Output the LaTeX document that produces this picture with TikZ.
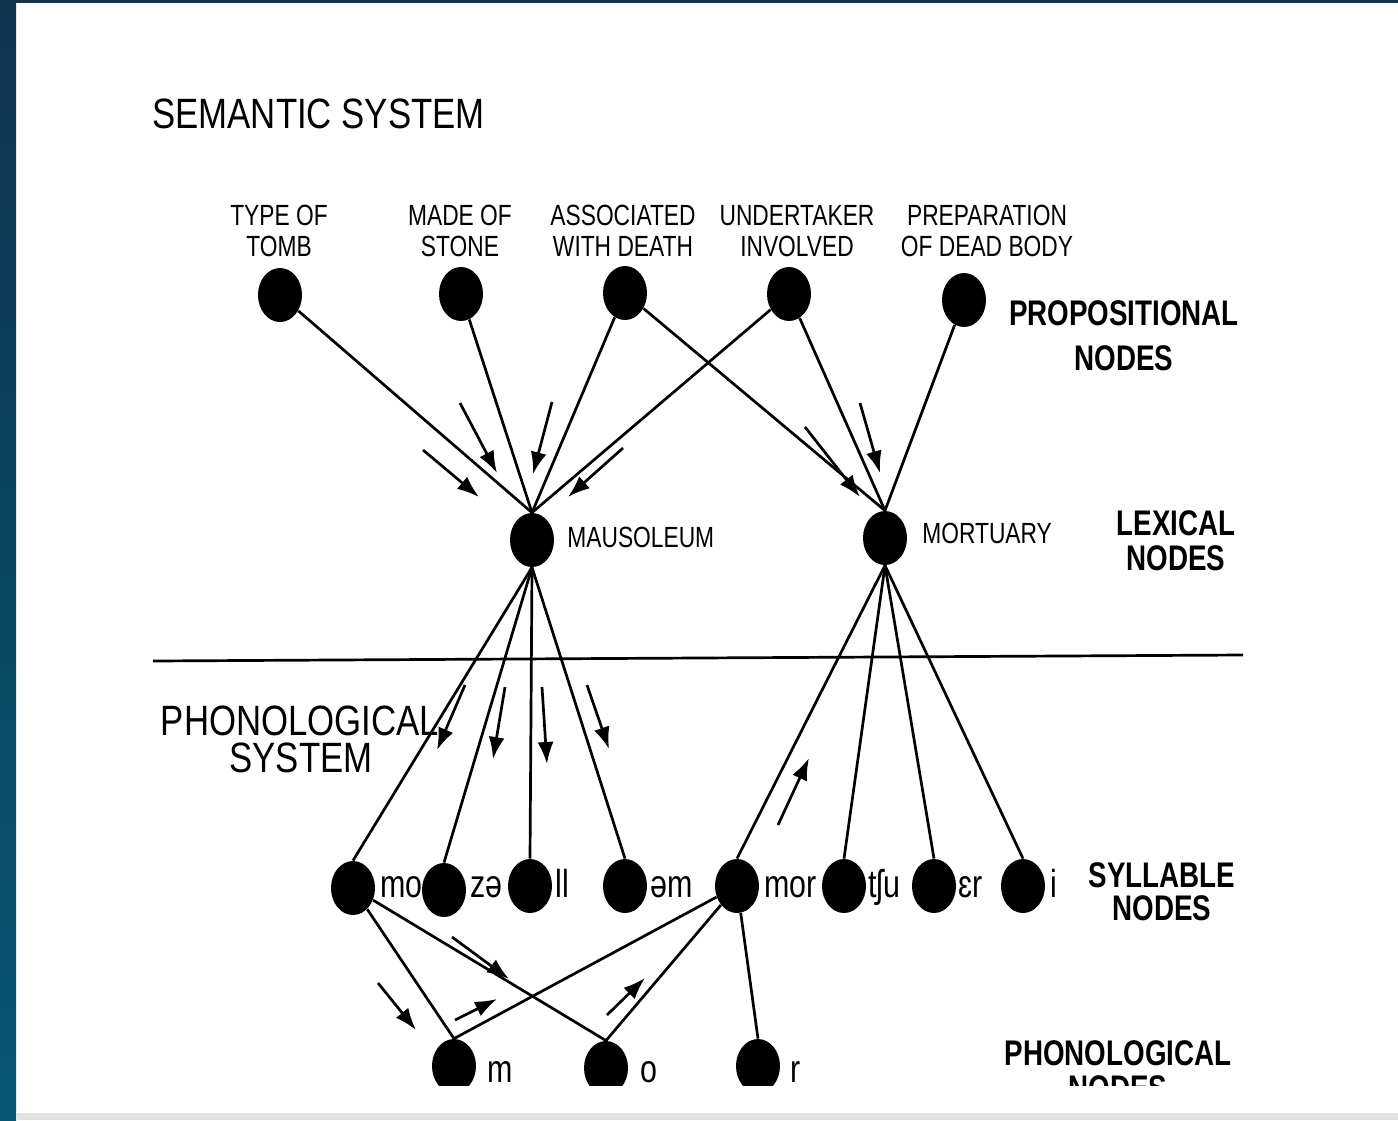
\documentclass[tikz,border=0pt]{standalone}
\usepackage{fontspec}
\setmainfont{Liberation Sans}[FakeStretch=0.78]
\newfontfamily\headfont{Liberation Sans}[FakeStretch=0.82]
\usetikzlibrary{arrows.meta,shapes.geometric}

\definecolor{frametop}{RGB}{14,52,78}
\definecolor{framebottom}{RGB}{6,88,118}
\definecolor{strip}{RGB}{226,226,226}

\tikzset{
  unit/.style={ellipse, fill=black, inner sep=0pt, minimum width=22pt, minimum height=27pt},
  link/.style={line width=1.35pt},
  flow/.style={line width=1.35pt, -{Latex[length=11pt,width=8pt]}},
  feature/.style={align=center, inner sep=0pt, anchor=north, font=\fontsize{14.6}{15.5}\selectfont},
  tag/.style={align=center, inner sep=0pt, anchor=north, font=\bfseries\fontsize{17.8}{#1}\selectfont},
  heading/.style={align=center, inner sep=0pt, font=\headfont\fontsize{21.2}{19}\selectfont},
  sound/.style={inner sep=0pt, anchor=base west, font=\fontsize{19.5}{20}\selectfont},
}

\begin{document}
\begin{tikzpicture}[x=0.5pt,y=0.5pt,yscale=-1]
\useasboundingbox (0,0) rectangle (1398,1120);

%Frame
\fill [white] (0,0) rectangle (1398,1120);
\shade [top color=frametop, bottom color=framebottom] (0,0) rectangle (16,1120);
\fill [frametop] (0,0) rectangle (1398,3);
\fill [strip] (16,1113) rectangle (1398,1120);

\begin{scope}
\clip (16,3) rectangle (1398,1085);

% Text Node
\node [heading, anchor=base west] (semantic) at (152,128) {SEMANTIC SYSTEM};
% Text Node
\node [heading, anchor=base] (phontitle) at (300,735) {PHONOLOGICAL};
\node [heading, anchor=base] (systitle) at (301,772) {SYSTEM};

% Text Node
\node [feature] (tombtext) at (279,205) {TYPE OF\\TOMB};
\node [feature] (stonetext) at (460,205) {MADE OF\\STONE};
\node [feature] (deathtext) at (623,205) {ASSOCIATED\\WITH DEATH};
\node [feature] (undertext) at (797,205) {UNDERTAKER\\INVOLVED};
\node [feature] (bodytext) at (987,205) {PREPARATION\\OF DEAD BODY};

% Text Node
\node [tag=22.5] (proptag) at (1124,300) {PROPOSITIONAL\\NODES};
\node [tag=17.5] (lextag) at (1176,510) {LEXICAL\\NODES};
\node [tag=16.5] (syltag) at (1162,862) {SYLLABLE\\NODES};
\node [tag=17.5] (phontag) at (1118,1040) {PHONOLOGICAL\\NODES};

%Shape: Circle
\node [unit] (tomb) at (280,295) {};
\node [unit] (stone) at (461,294) {};
\node [unit] (death) at (625,293) {};
\node [unit] (undertaker) at (789,294) {};
\node [unit] (body) at (964,300) {};

%Shape: Circle
\node [unit] (maus) at (532,540) {};
\node [unit] (mort) at (885,538) {};
% Text Node
\node [feature, anchor=base west] (maustext) at (567,547) {MAUSOLEUM};
\node [feature, anchor=base west] (morttext) at (922,543) {MORTUARY};

%Shape: Circle
\node [unit] (mo) at (353,888) {};
\node [unit] (ze) at (444,890) {};
\node [unit] (li) at (530,886) {};
\node [unit] (em) at (625,886) {};
\node [unit] (mor) at (737,886) {};
\node [unit] (tsu) at (844,886) {};
\node [unit] (er) at (934,886) {};
\node [unit] (i) at (1023,886) {};
% Text Node
\node [sound] (motext) at (380,897) {mo};
\node [sound] (zetext) at (470,897) {zə};
\node [sound] (litext) at (555,897) {ll};
\node [sound] (emtext) at (650,897) {əm};
\node [sound] (mortext) at (764,897) {mor};
\node [sound] (tsutext) at (868,897) {tʃu};
\node [sound] (ertext) at (958,897) {ɛr};
\node [sound] (itext) at (1050,897) {i};

%Shape: Circle
\node [unit] (m) at (454,1066) {};
\node [unit] (o) at (606,1068) {};
\node [unit] (r) at (758,1066) {};
% Text Node
\node [sound] (mtext) at (487,1082) {m};
\node [sound] (otext) at (640,1082) {o};
\node [sound] (rtext) at (790,1082) {r};

%Straight Lines
\draw [link] (tomb) -- (maus.north);
\draw [link] (stone) -- (maus.north);
\draw [link] (death) -- (maus.north);
\draw [link] (undertaker) -- (maus.north);
\draw [link] (death) -- (mort.north);
\draw [link] (undertaker) -- (mort.north);
\draw [link] (body) -- (mort.north);

%Straight Lines
\draw [link] (153,661) -- (1243,655);

%Straight Lines
\draw [link] (maus.south) -- (mo.north);
\draw [link] (maus.south) -- (ze.north);
\draw [link] (maus.south) -- (li.north);
\draw [link] (maus.south) -- (em.north);
\draw [link] (mort.south) -- (mor.north);
\draw [link] (mort.south) -- (tsu.north);
\draw [link] (mort.south) -- (er.north);
\draw [link] (mort.south) -- (i.north);

%Straight Lines
\draw [link] (mo) -- (m.north);
\draw [link] (mo) -- (o.north);
\draw [link] (mor) -- (m.north);
\draw [link] (mor) -- (o.north);
\draw [link] (mor) -- (r.north);

%Arrows
\draw [flow] (423,450) -- (479,497);
\draw [flow] (460,403) -- (497,473);
\draw [flow] (552,402) -- (533,474);
\draw [flow] (623,448) -- (568,497);
\draw [flow] (805,427) -- (860,497);
\draw [flow] (860,403) -- (880,473);

%Arrows
\draw [flow] (465,685) -- (437,750);
\draw [flow] (505,687) -- (493,759);
\draw [flow] (542,687) -- (547,764);
\draw [flow] (587,685) -- (609,749);
\draw [flow] (778,825) -- (809,758);

%Arrows
\draw [flow] (378,983) -- (416,1030);
\draw [flow] (452,937) -- (509,979);
\draw [flow] (455,1020) -- (497,999);
\draw [flow] (607,1015) -- (645,978);

\end{scope}
\end{tikzpicture}
\end{document}
